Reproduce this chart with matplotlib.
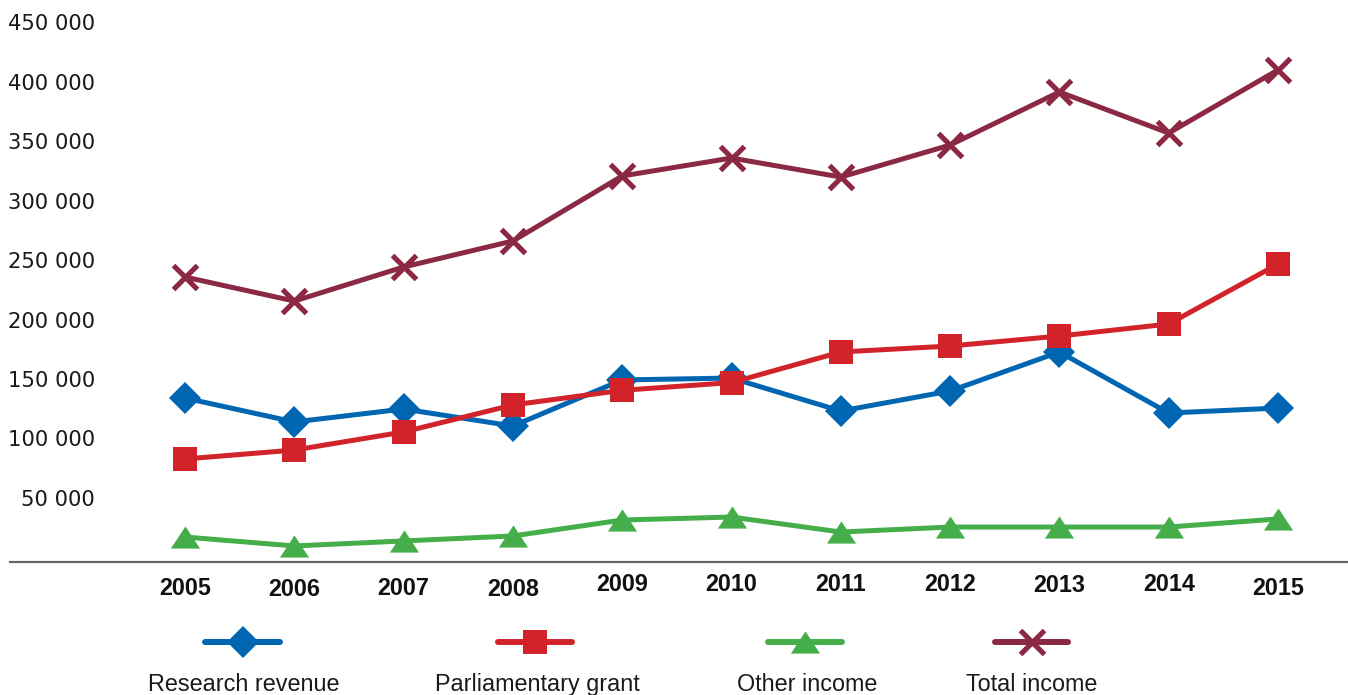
import matplotlib
matplotlib.use("Agg")
import matplotlib.pyplot as plt
from matplotlib.ticker import FuncFormatter, FixedLocator
import matplotlib.transforms as mtransforms

years = [2005, 2006, 2007, 2008, 2009, 2010, 2011, 2012, 2013, 2014, 2015]
research_revenue = [134000, 113900, 124800, 110500, 149200, 150800, 123100, 139900, 172700, 121400, 125600]
parliamentary_grant = [82800, 90300, 105500, 128200, 140500, 147000, 172700, 177700, 186100, 196200, 246600]
other_income = [17200, 9700, 13900, 18100, 31500, 34000, 21400, 25600, 25600, 25600, 32400]
total_income = [235700, 215500, 244100, 266000, 320600, 335700, 319700, 346600, 391200, 356700, 409700]
series_labels = ["Research revenue", "Parliamentary grant", "Other income", "Total income"]
y_ticks = [50000, 100000, 150000, 200000, 250000, 300000, 350000, 400000, 450000]

c_blue = "#0066B2"
c_red = "#D2232A"
c_green = "#45AE4A"
c_maroon = "#8B2843"

W, H = 1348, 695
fig = plt.figure(figsize=(W / 100, H / 100), dpi=100)
ax = fig.add_axes([10 / W, (H - 562) / H, (W - 10) / W, (562 - 10) / H])

tri = [(-1, -0.76), (1, -0.76), (0, 0.76)]
styles = [
    dict(color=c_blue, marker="D", ms=16),
    dict(color=c_red, marker="s", ms=16.8),
    dict(color=c_green, marker=tri, ms=21),
    dict(color=c_maroon, marker="x", ms=17, mew=3.7),
]
data = [research_revenue, parliamentary_grant, other_income, total_income]
for vals, st in zip(data, styles):
    ax.plot(years, vals, color=st["color"], lw=3.6, marker=st["marker"], ms=st["ms"],
            mew=st.get("mew", 0), mec=st["color"], mfc=st["color"],
            solid_joinstyle="round", solid_capstyle="round", clip_on=False)

px_per_year = (1278 - 185) / 10
ax.set_xlim(2005 - (185 - 10) / px_per_year, 2015 + (W - 1278) / px_per_year)
units_per_px = 50000 / 59.5
ax.set_ylim(-(562 - 557.5) * units_per_px, (557.5 - 10) * units_per_px)

for s in ["top", "right", "left"]:
    ax.spines[s].set_visible(False)
ax.spines["bottom"].set_color("#666666")
ax.spines["bottom"].set_linewidth(1.6)

ax.yaxis.set_major_locator(FixedLocator(y_ticks))
ax.yaxis.set_major_formatter(FuncFormatter(lambda v, p: f"{int(v):,}".replace(",", " ")))
ax.tick_params(axis="y", length=0, pad=-85 * 0.72, labelsize=15.2, labelcolor="#1a1a1a")
for lab in ax.get_yticklabels():
    lab.set_fontfamily("DejaVu Sans")

ax.set_xticks(years)
ax.set_xticklabels([str(y) for y in years])
ax.tick_params(axis="x", length=0, pad=9.5)
offsets_px = [2, 3, 2, 3, -2, -2, -2, -2, -1, -2, 2]
for lab, off in zip(ax.get_xticklabels(), offsets_px):
    lab.set_fontfamily(["Liberation Sans", "DejaVu Sans"])
    lab.set_fontweight("bold")
    lab.set_fontsize(16.8)
    lab.set_color("#111111")
    lab.set_transform(lab.get_transform() + mtransforms.ScaledTranslation(0, -off / 100, fig.dpi_scale_trans))

# Legend drawn in its own pixel-coordinate axes
lax = fig.add_axes([0, 0, 1, 1], facecolor="none")
lax.set_xlim(0, W)
lax.set_ylim(H, 0)
lax.axis("off")
leg_x = [(205, 280), (498, 572), (768, 842), (995, 1068)]
leg_text_x = [244, 537, 807, 1032]
for (x0, x1), tx, st, lbl in zip(leg_x, leg_text_x, styles, series_labels):
    lax.plot([x0, x1], [642, 642], color=st["color"], lw=4.3, solid_capstyle="round")
    lax.plot([(x0 + x1) / 2], [642], color=st["color"], marker=st["marker"], ms=st["ms"],
             mew=st.get("mew", 0), mec=st["color"], mfc=st["color"], ls="none")
    lax.text(tx, 691, lbl, ha="center", va="baseline", fontsize=16.8,
             family=["Liberation Sans", "DejaVu Sans"], color="#1a1a1a")

fig.savefig("out.png", dpi=100)
